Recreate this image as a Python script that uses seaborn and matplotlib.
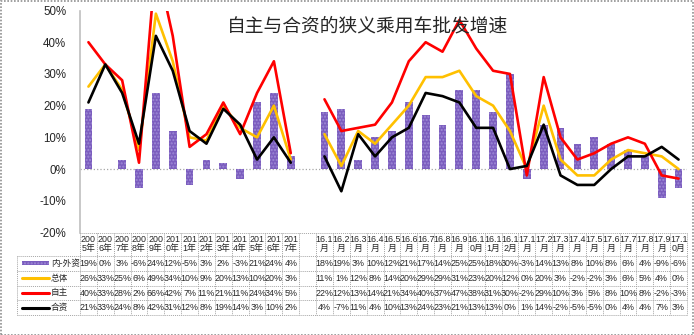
import numpy as np
import pandas as pd
import matplotlib
matplotlib.use("Agg")
import matplotlib.pyplot as plt
import seaborn as sns
from matplotlib.transforms import blended_transform_factory
from matplotlib.patches import Rectangle

# ---------------- data ----------------
categories = ["2005年", "2006年", "2007年", "2008年", "2009年", "2010年", "2011年",
              "2012年", "2013年", "2014年", "2015年", "2016年", "2017年", "",
              "16.1月", "16.2月", "16.3月", "16.4月", "16.5月", "16.6月", "16.7月",
              "16.8月", "16.9月", "16.10月", "16.11月", "16.12月",
              "17.1月", "17.2月", "17.3月", "17.4月", "17.5月", "17.6月", "17.7月",
              "17.8月", "17.9月", "17.10月"]
diff = [19, 0, 3, -6, 24, 12, -5, 3, 2, -3, 21, 24, 4, None,
        18, 19, 3, 10, 12, 21, 17, 14, 25, 25, 18, 30,
        -3, 14, 13, 8, 10, 8, 6, 4, -9, -6]
total = [26, 33, 25, 6, 49, 34, 10, 9, 20, 13, 10, 20, 3, None,
         11, 1, 12, 8, 14, 20, 29, 29, 31, 23, 20, 12,
         0, 20, 3, -2, -2, 3, 6, 5, 4, 0]
domestic = [40, 33, 28, 2, 66, 42, 7, 11, 21, 11, 24, 34, 5, None,
            22, 12, 13, 14, 21, 34, 40, 37, 47, 38, 31, 30,
            -2, 29, 10, 3, 5, 8, 10, 8, -2, -3]
jv = [21, 33, 24, 8, 42, 31, 12, 8, 19, 14, 3, 10, 2, None,
      4, -7, 11, 4, 10, 13, 24, 23, 21, 13, 13, 0,
      1, 14, -2, -5, -5, 0, 4, 4, 7, 3]
series_names = ["内-外资", "总体", "自主", "合资"]
title = "自主与合资的狭义乘用车批发增速"
yticks = [-20, -10, 0, 10, 20, 30, 40, 50]

# ---------------- style ----------------
sns.set_style("white")
plt.rcParams["font.family"] = ["Liberation Sans", "Noto Sans CJK SC"]

BAR_C = "#7B5DBE"
COLORS = {"总体": "#FFC000", "自主": "#FF0000", "合资": "#000000"}
GRID_C = "#A6A6A6"

W, H = 694, 335
fig = plt.figure(figsize=(W / 100, H / 100), dpi=100)
ax_left, ax_right, ax_top, ax_bot = 80, 687, 10.5, 232.5
ax = fig.add_axes([ax_left / W, 1 - ax_bot / H, (ax_right - ax_left) / W, (ax_bot - ax_top) / H])

n = len(categories)
pos = np.arange(n)

# bars
df_bar = pd.DataFrame({"pos": pos, "val": diff}).dropna()
sns.barplot(data=df_bar, x="pos", y="val", native_scale=True, width=0.46,
            color=BAR_C, saturation=1, errorbar=None, ax=ax)
for p in ax.patches:
    p.set_hatch(".....")
    p.set_edgecolor("#9E8AD6")
    p.set_linewidth(0)

# lines (two segments, broken at the blank column)
rows = []
for name, vals in [("总体", total), ("自主", domestic), ("合资", jv)]:
    for i, v in enumerate(vals):
        rows.append({"pos": i, "val": v, "series": name})
df_line = pd.DataFrame(rows)
blank = categories.index("")
for seg in [df_line[df_line.pos < blank], df_line[df_line.pos > blank]]:
    sns.lineplot(data=seg, x="pos", y="val", hue="series",
                 hue_order=["总体", "自主", "合资"], palette=COLORS,
                 estimator=None, sort=False, linewidth=1.9, legend=False, ax=ax)

ax.axhline(0, color=GRID_C, ls=":", lw=0.9, zorder=0)
ax.set_xlim(-0.5, n - 0.5)
ax.set_ylim(-20, 50)
ax.set_yticks(yticks)
ax.set_yticklabels([f"{t}%" for t in yticks], fontsize=8.3)
ax.tick_params(axis="y", length=0, pad=10)
ax.set_xticks([])
ax.set_xlabel("")
ax.set_ylabel("")
for s in ["top", "right", "bottom"]:
    ax.spines[s].set_visible(False)
ax.spines["left"].set_color("#BFBFBF")
ax.spines["left"].set_linewidth(1.2)

fig.text(368 / W, 1 - 26 / H, title, fontsize=13.5, ha="center", va="center",
         family=["Noto Sans CJK SC"])

# ---------------- data table ----------------
bt = blended_transform_factory(ax.transData, fig.transFigure)
fy = lambda y: 1 - y / H
fx = lambda x: x / W
row_lines = [255.7, 270.7, 285.7, 300.3, 315]
header_top = 232.5
lkw = dict(color=GRID_C, lw=0.7, ls=(0, (1, 1)), clip_on=False)

fig.add_artist(plt.Line2D([fx(ax_left), fx(ax_right)], [fy(header_top)] * 2, transform=fig.transFigure, **lkw))
for y in row_lines:
    fig.add_artist(plt.Line2D([fx(17.3), fx(ax_right)], [fy(y)] * 2, transform=fig.transFigure, **lkw))
fig.add_artist(plt.Line2D([fx(17.3)] * 2, [fy(row_lines[0]), fy(row_lines[-1])], transform=fig.transFigure, **lkw))
for b in np.arange(n + 1) - 0.5:
    ax.add_artist(plt.Line2D([b, b], [fy(header_top), fy(row_lines[-1])], transform=bt, **lkw))

TFS = 6.4
for i, c in enumerate(categories):
    if not c:
        continue
    k = 3 if c.endswith("年") else 4
    ax.text(i, fy(240), c[:k], transform=bt, ha="center", va="center", fontsize=TFS)
    ax.text(i, fy(248.5), c[k:], transform=bt, ha="center", va="center", fontsize=TFS)

row_centers = [263.2, 278.2, 293.0, 307.6]
all_vals = [diff, total, domestic, jv]
for r, (name, vals) in enumerate(zip(series_names, all_vals)):
    yc = row_centers[r]
    for i, v in enumerate(vals):
        if v is None:
            continue
        ax.text(i, fy(yc), f"{v}%", transform=bt, ha="center", va="center", fontsize=TFS)
    if r == 0:
        rect = Rectangle((fx(21.7), fy(yc + 2)), fx(49.3) - fx(21.7), 4 / H,
                         transform=fig.transFigure, facecolor=BAR_C, edgecolor="#9E8AD6",
                         hatch=".....", lw=0)
        fig.add_artist(rect)
    else:
        fig.add_artist(plt.Line2D([fx(21.7), fx(49.3)], [fy(yc)] * 2, transform=fig.transFigure,
                                  color=COLORS[name], lw=2.2))
    fig.text(fx(51.0), fy(yc), name, ha="left", va="center", fontsize=6.2,
             family=["Noto Sans CJK SC"])

fig.add_artist(Rectangle((0.5 / W, 0.5 / H), (W - 1.5) / W, (H - 1.5) / H, transform=fig.transFigure,
                         fill=False, edgecolor="#909090", lw=1.2, ls=(0, (1, 1))))

fig.savefig("out.png", dpi=100)
